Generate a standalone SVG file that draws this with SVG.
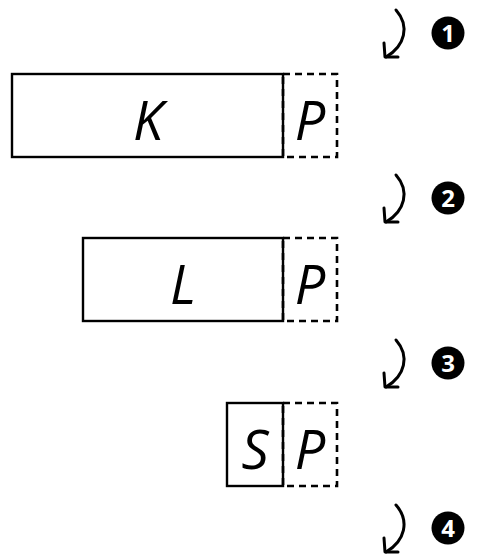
<svg xmlns="http://www.w3.org/2000/svg" width="480" height="556" viewBox="0 0 480 556">
<style>
.box{fill:none;stroke:#000;stroke-width:2.4}
.dash{fill:none;stroke:#000;stroke-width:2.6;stroke-dasharray:7 5}
.lbl{font-family:"Open Sans","DejaVu Sans",sans-serif;font-style:italic;font-size:54px;text-anchor:middle;fill:#000}
.arr{fill:none;stroke:#000;stroke-width:3;stroke-linecap:round;stroke-linejoin:round}
.num{font-family:"Open Sans","DejaVu Sans",sans-serif;font-weight:bold;font-size:24px;text-anchor:middle;fill:#fff}
</style>
<defs>
<g id="arrow">
<path class="arr" d="M396,0 C410,16 405,36 386,47"/>
<path class="arr" d="M384,33 L385,47 L398,47"/>
</g>
</defs>
<g id="connectors">
<use href="#arrow" transform="translate(0,10)"/>
<use href="#arrow" transform="translate(0,175)"/>
<use href="#arrow" transform="translate(0,340)"/>
<use href="#arrow" transform="translate(0,505)"/>
</g>
<g id="step1"><circle cx="448" cy="33" r="16.5"/><text class="num" x="448" y="41.5">1</text></g>
<g id="step2"><circle cx="448" cy="198" r="16.5"/><text class="num" x="448" y="206.5">2</text></g>
<g id="step3"><circle cx="448" cy="363" r="16.5"/><text class="num" x="448" y="371.5">3</text></g>
<g id="step4"><circle cx="448" cy="528" r="16.5"/><text class="num" x="448" y="536.5">4</text></g>
<g id="rowK">
<rect class="dash" x="283" y="74" width="54" height="83"/>
<rect class="box" x="12" y="74" width="271" height="83"/>
<text class="lbl" x="148" y="140">K</text>
<text class="lbl" x="310" y="140">P</text>
</g>
<g id="rowL">
<rect class="dash" x="283" y="238" width="54" height="83"/>
<rect class="box" x="83" y="238" width="200" height="83"/>
<text class="lbl" x="183" y="304">L</text>
<text class="lbl" x="310" y="304">P</text>
</g>
<g id="rowS">
<rect class="dash" x="283" y="403" width="54" height="83"/>
<rect class="box" x="227" y="403" width="56" height="83"/>
<text class="lbl" x="255" y="469">S</text>
<text class="lbl" x="310" y="469">P</text>
</g>
</svg>
